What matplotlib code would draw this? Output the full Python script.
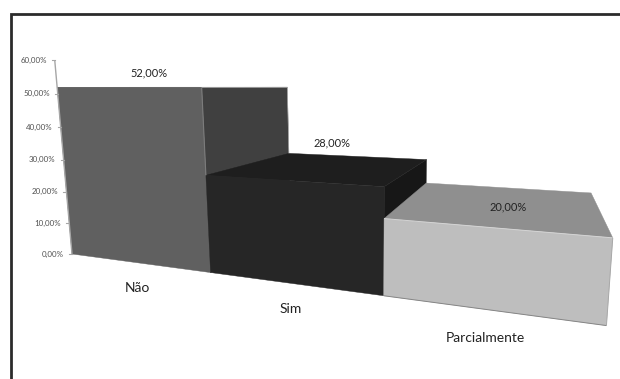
import numpy as np
import matplotlib
matplotlib.use('Agg')
import matplotlib.pyplot as plt
from matplotlib.patches import Polygon

plt.rcParams['font.family'] = ['Lato', 'DejaVu Sans']

categorias = ['Não', 'Sim', 'Parcialmente']
valores = [52.0, 28.0, 20.0]
ticks = [0, 10, 20, 30, 40, 50, 60]

cor_frente = ['#606060', '#262626', '#bebebe']
cor_lado = ['#404040', '#171717', '#8f8f8f']
cor_topo = ['#808080', '#1e1e1e', '#8f8f8f']

# perspective of the chart box, columns are category, value, depth, origin
cam = np.array([
    [-0.1 * -1175, -0.000913 * 370, 0.289 * 540, 72],
    [-0.1 * 87, -0.000913 * 3600, 0.289 * 87, 254],
    [-0.1, -0.000913, 0.289, 1],
])


def proj(u, v, d=0):
    p = cam @ np.array([u, v, d, 1.0])
    return p[0] / p[2], p[1] / p[2]


def fmt(v):
    return f'{v:.2f}'.replace('.', ',') + '%'


def face(pts, cor):
    # same colour edge closes the seams between neighbouring faces
    ax.add_patch(Polygon(pts, fc=cor, ec=cor, lw=0.3))


def aresta(a, b, cor, lw=0.7):
    ax.plot(*zip(a, b), color=cor, lw=lw, solid_capstyle='butt')


fig = plt.figure(figsize=(6.2, 3.79), dpi=100)
ax = fig.add_axes([0, 0, 1, 1])
ax.set_xlim(0, 620)
ax.set_ylim(379, 0)
ax.axis('off')

# frame around the chart
ax.plot([11.3, 11.3, 620], [379, 13.7, 13.7], color='#2b2b2b', lw=2, solid_joinstyle='miter')

# value axis
aresta(proj(0, 0), proj(0, 60), '#a6a6a6', 1)
for t in ticks:
    x, y = proj(0, t)
    ax.plot([x - 3, x], [y, y], color='#a6a6a6', lw=0.8)
    ax.text(x - 8, y, fmt(t), ha='right', va='center', fontsize=5.7, color='#505050')

# bars from back to front, sides first
for i, v in enumerate(valores):
    if i < 2:
        face([proj(i + 1, 0), proj(i + 1, v), proj(i + 1, v, 1), proj(i + 1, 0, 1)], cor_lado[i])
    face([proj(i, v), proj(i + 1, v), proj(i + 1, v, 1), proj(i, v, 1)], cor_topo[i])
for i, v in enumerate(valores):
    face([proj(i, 0), proj(i + 1, 0), proj(i + 1, v), proj(i, v)], cor_frente[i])

# lit and shaded edges
aresta(proj(1, 28), proj(1, 52), '#7c7c7c', 0.8)
aresta(proj(1, 52), proj(1, 52, 1), '#b4b4b4', 0.4)
aresta(proj(1, 28, 1), proj(1, 52, 1), '#c4c4c4', 0.4)
aresta(proj(2, 20), proj(3, 20), '#d4d4d4', 0.7)
aresta(proj(2, 0), proj(3, 0), '#858585', 0.7)
aresta(proj(3, 0), proj(3, 20), '#a8a8a8', 0.7)

# value and category labels
pos_valor = [(149, 73), (332, 143), (508.5, 207)]
pos_cat = [(137, 288), (291, 309), (485.5, 338)]
for i in range(3):
    ax.text(pos_valor[i][0], pos_valor[i][1], fmt(valores[i]), ha='center', va='center',
            fontsize=7.9, color='#222222')
    ax.text(pos_cat[i][0], pos_cat[i][1], categorias[i], ha='center', va='center',
            fontsize=10, color='#222222')

fig.savefig('out.png', dpi=100)
